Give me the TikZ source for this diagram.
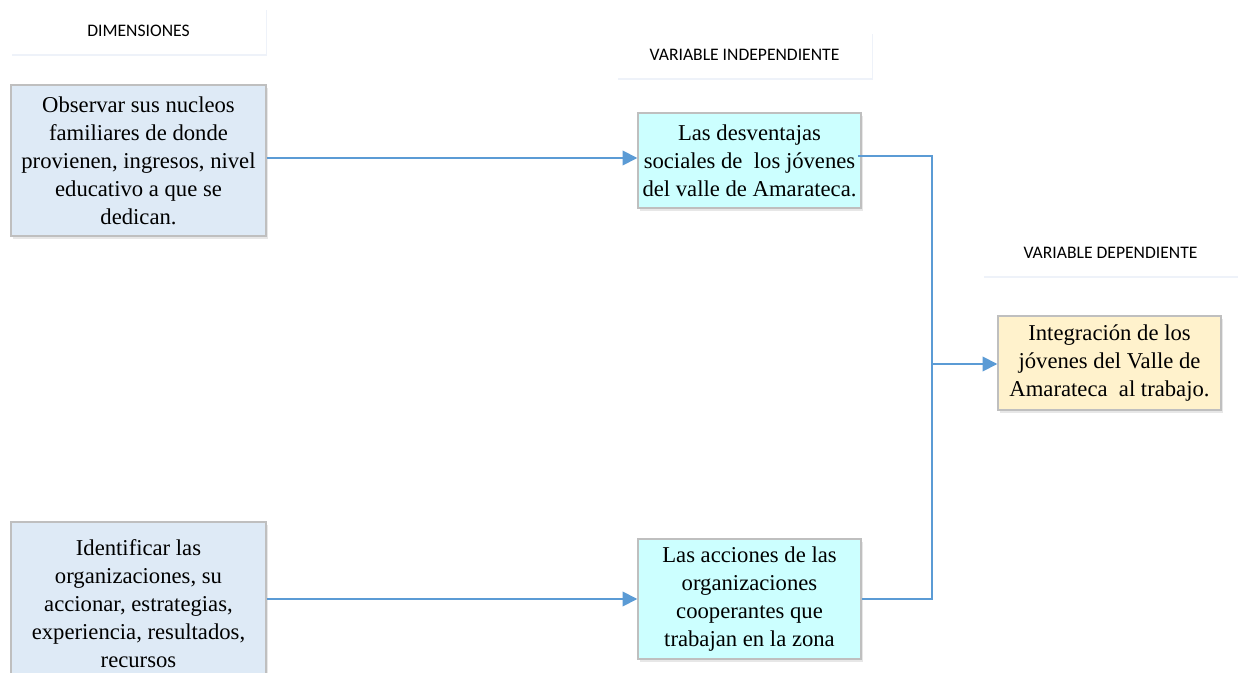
\documentclass[tikz,border=0pt]{standalone}
\usepackage{fontspec}
\setmainfont{Liberation Serif}
\newfontfamily\labelfont{Carlito}
\usetikzlibrary{arrows.meta,shadows}
\definecolor{linkblue}{HTML}{5B9BD5}
\definecolor{dimfill}{HTML}{DEEAF6}
\definecolor{indfill}{HTML}{CCFFFF}
\definecolor{depfill}{HTML}{FFF2CC}
\definecolor{boxline}{HTML}{BFBFBF}
\definecolor{shadowcol}{HTML}{C9D7EE}
\tikzset{
  conceptbox/.style={draw=boxline, line width=1.1pt, align=center, inner sep=2pt,
    font=\fontsize{17pt}{21pt}\selectfont,
    drop shadow={shadow xshift=1.5pt, shadow yshift=-2pt, opacity=0.3, fill=gray!60}},
  headbox/.style={fill=white, align=center, minimum width=191.25pt, minimum height=34.5pt,
    font=\labelfont\fontsize{13.2pt}{15pt}\selectfont,
    drop shadow={shadow xshift=1pt, shadow yshift=-1.5pt, opacity=0.3, fill=shadowcol}},
  link/.style={draw=linkblue, line width=1.3pt},
  linkarrow/.style={link, -{Triangle[length=11pt,width=11pt]}}
}
\begin{document}
\begin{tikzpicture}[x=0.75pt,y=-0.75pt]
\clip (0,0) rectangle (1238,673);
\fill[white] (0,0) rectangle (1238,673);

\node[headbox] (hdim) at (138.5,31) {DIMENSIONES};
\node[headbox] (hind) at (744.5,55) {VARIABLE INDEPENDIENTE};
\node[headbox] (hdep) at (1110.5,253) {VARIABLE DEPENDIENTE};

\node[conceptbox, fill=dimfill, minimum width=191.25pt, minimum height=113.25pt] (obs) at (138.5,160.5)
  {Observar sus nucleos\\familiares de donde\\provienen, ingresos, nivel\\educativo a que se\\dedican.};
\node[conceptbox, fill=dimfill, minimum width=191.25pt, minimum height=123pt] (ident) at (138.5,604)
  {Identificar las\\organizaciones, su\\accionar, estrategias,\\experiencia, resultados,\\recursos};
\node[conceptbox, fill=indfill, minimum width=167.25pt, minimum height=71.25pt] (desv) at (749.5,160.5)
  {Las desventajas\\sociales de \ los j\'ovenes\\del valle de Amarateca.};
\node[conceptbox, fill=indfill, minimum width=167.25pt, minimum height=90pt] (acc) at (749.5,599)
  {Las acciones de las\\organizaciones\\cooperantes que\\trabajan en la zona};
\node[conceptbox, fill=depfill, minimum width=167.25pt, minimum height=70.5pt] (integ) at (1109.5,363)
  {Integraci\'on de los\\j\'ovenes del Valle de\\Amarateca \ al trabajo.};

\coordinate (j) at (932,364);

\draw[linkarrow] (obs.east |- 0,158) -- (desv.west |- 0,158);
\draw[linkarrow] (ident.east |- acc.west) -- (acc.west);
\draw[link] (858,156) -| (j);
\draw[link] (acc.east) -| (j);
\draw[linkarrow] (j) -- (j -| integ.west);
\end{tikzpicture}
\end{document}
